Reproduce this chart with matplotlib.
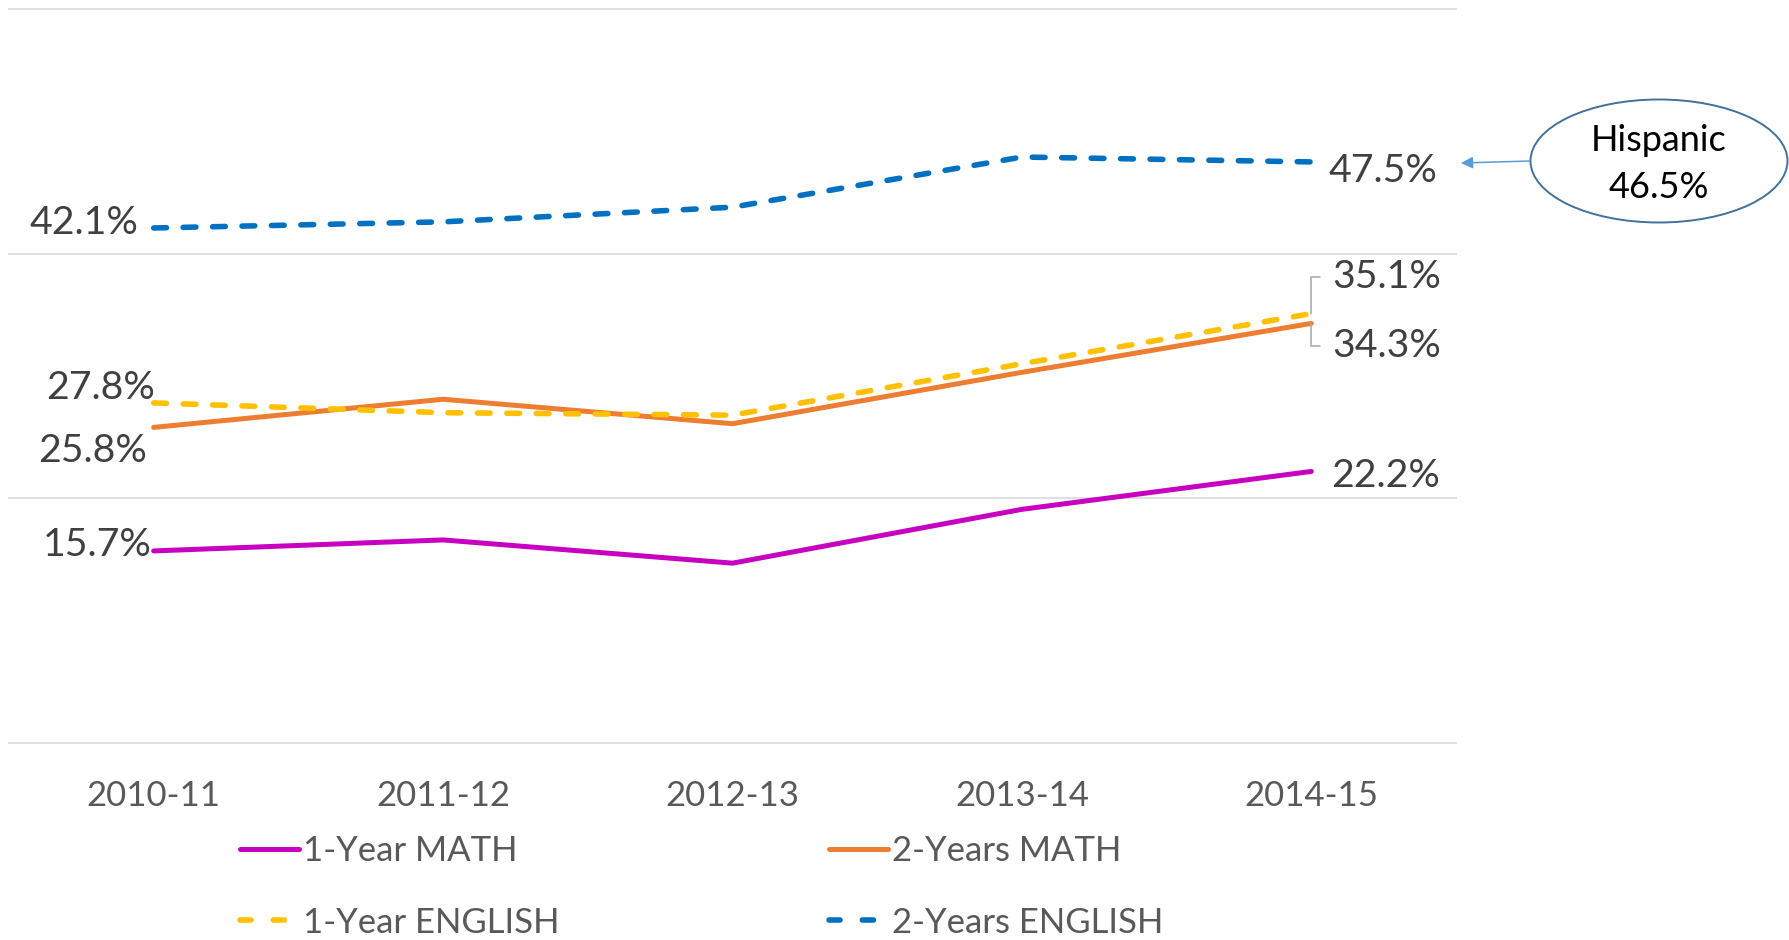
import matplotlib
matplotlib.use("Agg")
import matplotlib.pyplot as plt
from matplotlib.patches import Ellipse, FancyArrowPatch
from matplotlib.lines import Line2D

plt.rcParams['font.family'] = ['Lato', 'DejaVu Sans']

years = ['2010-11', '2011-12', '2012-13', '2013-14', '2014-15']
math_1yr = [15.7, 16.6, 14.7, 19.1, 22.2]
math_2yr = [25.8, 28.1, 26.1, 30.3, 34.3]
eng_1yr = [27.8, 27.0, 26.8, 31.0, 35.1]
eng_2yr = [42.1, 42.6, 43.8, 47.9, 47.5]
series_names = ['1-Year MATH', '2-Years MATH', '1-Year ENGLISH', '2-Years ENGLISH']
callout_text = 'Hispanic\n46.5%'

C_MAG = '#C800C0'
C_ORA = '#ED7D31'
C_YEL = '#FFC000'
C_BLU = '#0070C0'
LABEL_COLOR = '#404040'
TICK_COLOR = '#595959'

fig = plt.figure(figsize=(17.9, 9.4), dpi=100)
ax = fig.add_axes([9/1790, 1-743/940, (1456-9)/1790, (743-9)/940])

x = list(range(len(years)))
lw_solid = 3.6
lw_dash = 4.0
l1, = ax.plot(x, math_1yr, color=C_MAG, lw=lw_solid, solid_capstyle='round', zorder=3)
l2, = ax.plot(x, math_2yr, color=C_ORA, lw=lw_solid, solid_capstyle='round', zorder=3)
l3, = ax.plot(x, eng_1yr, color=C_YEL, lw=lw_dash, dashes=(2.3, 3.0), dash_capstyle='round', zorder=3)
l4, = ax.plot(x, eng_2yr, color=C_BLU, lw=lw_dash, dashes=(2.3, 3.0), dash_capstyle='round', zorder=3)

ax.set_xlim(-0.5, len(years) - 0.5)
ax.set_ylim(0, 60)
ax.set_yticks([0, 20, 40, 60])
ax.set_yticklabels([])
ax.tick_params(axis='y', length=0)
ax.set_xticks(x)
ax.set_xticklabels(years)
ax.tick_params(axis='x', length=0, pad=26.5, labelsize=25, labelcolor=TICK_COLOR)
ax.grid(axis='y', color='#D9D9D9', lw=1.2)
for gl in ax.get_ygridlines():
    gl.set_clip_on(False)
ax.set_axisbelow(True)
for s in ax.spines.values():
    s.set_visible(False)

FS = 28.3

def lab(i, v, dx, dy, ha):
    ax.annotate(f'{v:.1f}%', xy=(i, v), xytext=(dx, dy), textcoords='offset pixels',
                ha=ha, va='center', fontsize=FS, color=LABEL_COLOR)

last = len(years) - 1
lab(0, eng_2yr[0], -15, 5, 'right')
lab(0, eng_1yr[0], 1, 15, 'right')
lab(0, math_2yr[0], -7, -24, 'right')
lab(0, math_1yr[0], -2, 6, 'right')
lab(last, eng_2yr[last], 17, -9, 'left')
lab(last, math_1yr[last], 20, -5, 'left')

for v, dy in ((eng_1yr[last], 37), (math_2yr[last], -23)):
    ax.annotate(f'{v:.1f}%', xy=(last, v), xytext=(21, dy), textcoords='offset pixels',
                ha='left', va='center', fontsize=FS, color=LABEL_COLOR,
                arrowprops=dict(arrowstyle='-', color='#A6A6A6', lw=1.1,
                                connectionstyle='angle,angleA=0,angleB=90,rad=0',
                                relpos=(0, 0.5), shrinkA=6.5, shrinkB=0))

# callout
ell = Ellipse((1659/1790, 1-161/940), 257/1790, 123/940, transform=fig.transFigure,
              facecolor='white', edgecolor='#41719C', lw=1.4)
fig.add_artist(ell)
fig.text(1659/1790, 1-164/940, callout_text, ha='center', va='center', fontsize=26,
         color='black', linespacing=1.5)
arr = FancyArrowPatch((1530/1790, 1-161/940), (1461/1790, 1-163/940),
                      transform=fig.transFigure, arrowstyle='-|>,head_length=7,head_width=3.5',
                      color='#5B9BD5', lw=1.1, shrinkA=0, shrinkB=0, mutation_scale=1)
fig.add_artist(arr)

def proxy(line):
    if line.get_linestyle() in ('-', 'solid'):
        return Line2D([], [], color=line.get_color(), lw=line.get_linewidth(),
                      solid_capstyle='round')
    return Line2D([], [], color=line.get_color(), lw=line.get_linewidth(),
                  dashes=(2.0, 4.0), dash_capstyle='round')

handles = [proxy(l1), proxy(l3), proxy(l2), proxy(l4)]
labels = [series_names[0], series_names[2], series_names[1], series_names[3]]
fig.legend(handles, labels, ncol=2, loc='upper left', bbox_to_anchor=(240/1790, 1-835/940),
           frameon=False, borderpad=0, borderaxespad=0, handlelength=1.7, handletextpad=0.12,
           columnspacing=7.75, labelspacing=1.14, fontsize=25, labelcolor=TICK_COLOR)

fig.savefig('out.png', dpi=100, facecolor='white')
